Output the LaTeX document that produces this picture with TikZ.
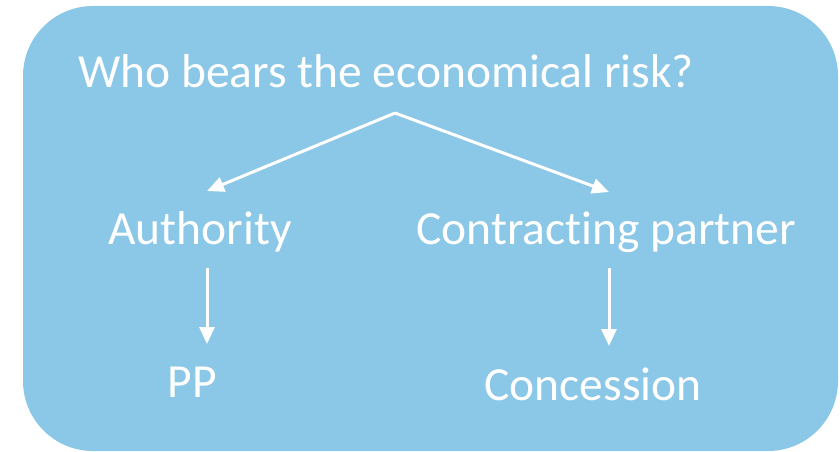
\documentclass[tikz,border=0pt]{standalone}
\usepackage{fontspec}
\setmainfont{Carlito}[Ligatures=NoCommon]
\usetikzlibrary{arrows.meta}
\definecolor{boxblue}{RGB}{139,199,230}
\begin{document}
\begin{tikzpicture}[x=1pt,y=-1pt,
  lbl/.style={text=white,font=\fontsize{47.5}{56}\selectfont,anchor=base,inner sep=0pt},
  conn/.style={draw=white,line width=3pt,-{Triangle[length=17pt,width=15pt]}}]
\useasboundingbox (0,0) rectangle (840,452);
\fill[boxblue,rounded corners=70pt] (23,6) rectangle (838,451);
\node[lbl] (title) at (386,88) {Who bears the economical risk?};
\node[lbl] (auth) at (200,244) {Authority};
\node[lbl] (partner) at (606,244) {Contracting partner};
\node[lbl] (pp) at (192,397) {PP};
\node[lbl] (conc) at (593,400) {Concession};
\coordinate (v) at (395,113);
\coordinate (lt) at (207,191);
\coordinate (rt) at (609,192);
\coordinate (a1) at (207,268);
\coordinate (a1t) at (207,344);
\coordinate (b1) at (609,268);
\coordinate (b1t) at (609,346);
\draw[conn] (v) -- (lt);
\draw[conn] (v) -- (rt);
\draw[conn] (a1) -- (a1t);
\draw[conn] (b1) -- (b1t);
\end{tikzpicture}
\end{document}
